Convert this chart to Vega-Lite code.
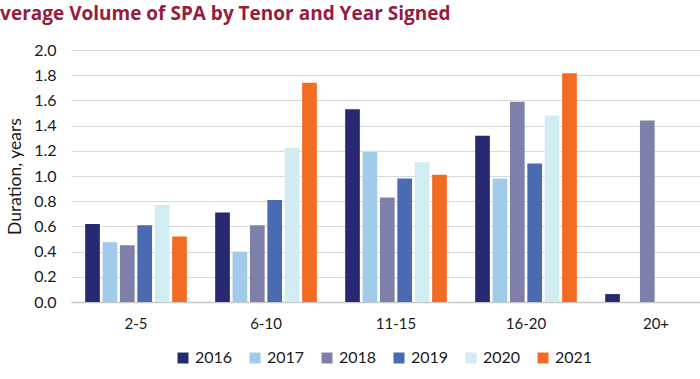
{
  "$schema": "https://vega.github.io/schema/vega-lite/v6.json",
  "width": 629,
  "height": 252,
  "autosize": {"type": "none"},
  "padding": {"left": 71, "top": 50, "right": 0, "bottom": 77},
  "background": "#ffffff",
  "title": {
    "text": "Average Volume of SPA by Tenor and Year Signed",
    "anchor": "start",
    "frame": "group",
    "dx": -84,
    "offset": 18,
    "font": "Open Sans",
    "fontSize": 19,
    "fontWeight": "bold",
    "color": "#981b3d"
  },
  "config": {
    "view": {"stroke": null},
    "font": "Lato"
  },
  "data": {
    "values": [
      {"tenor": "2-5", "year": "2016", "value": 0.62},
      {"tenor": "2-5", "year": "2017", "value": 0.475},
      {"tenor": "2-5", "year": "2018", "value": 0.45},
      {"tenor": "2-5", "year": "2019", "value": 0.61},
      {"tenor": "2-5", "year": "2020", "value": 0.77},
      {"tenor": "2-5", "year": "2021", "value": 0.52},
      {"tenor": "6-10", "year": "2016", "value": 0.71},
      {"tenor": "6-10", "year": "2017", "value": 0.40},
      {"tenor": "6-10", "year": "2018", "value": 0.61},
      {"tenor": "6-10", "year": "2019", "value": 0.81},
      {"tenor": "6-10", "year": "2020", "value": 1.225},
      {"tenor": "6-10", "year": "2021", "value": 1.74},
      {"tenor": "11-15", "year": "2016", "value": 1.53},
      {"tenor": "11-15", "year": "2017", "value": 1.19},
      {"tenor": "11-15", "year": "2018", "value": 0.83},
      {"tenor": "11-15", "year": "2019", "value": 0.98},
      {"tenor": "11-15", "year": "2020", "value": 1.11},
      {"tenor": "11-15", "year": "2021", "value": 1.01},
      {"tenor": "16-20", "year": "2016", "value": 1.32},
      {"tenor": "16-20", "year": "2017", "value": 0.98},
      {"tenor": "16-20", "year": "2018", "value": 1.59},
      {"tenor": "16-20", "year": "2019", "value": 1.10},
      {"tenor": "16-20", "year": "2020", "value": 1.48},
      {"tenor": "16-20", "year": "2021", "value": 1.815},
      {"tenor": "20+", "year": "2016", "value": 0.063},
      {"tenor": "20+", "year": "2018", "value": 1.44}
    ]
  },
  "mark": {"type": "bar"},
  "encoding": {
    "x": {
      "field": "tenor",
      "type": "nominal",
      "sort": ["2-5", "6-10", "11-15", "16-20", "20+"],
      "scale": {"range": [0, 650], "paddingInner": 0.218, "paddingOuter": 0.109},
      "axis": {
        "title": null,
        "labelAngle": 0,
        "labelFontSize": 15,
        "labelColor": "#1a1a1a",
        "labelPadding": 14,
        "ticks": false,
        "domain": true,
        "domainColor": "#c8c8c8",
        "domainWidth": 1.5
      }
    },
    "xOffset": {
      "field": "year",
      "type": "nominal",
      "scale": {"domain": ["2016", "2017", "2018", "2019", "2020", "2021"], "paddingInner": 0.155, "paddingOuter": 0}
    },
    "y": {
      "field": "value",
      "type": "quantitative",
      "scale": {"domain": [0, 2], "nice": false},
      "axis": {
        "title": "Duration, years",
        "titleFontSize": 17.5,
        "titleFontWeight": "normal",
        "titleColor": "#1a1a1a",
        "titlePadding": 9,
        "values": [0, 0.2, 0.4, 0.6, 0.8, 1.0, 1.2, 1.4, 1.6, 1.8, 2.0],
        "format": ".1f",
        "labelFontSize": 16,
        "labelColor": "#1a1a1a",
        "labelPadding": 15,
        "ticks": false,
        "domain": false,
        "gridColor": "#d9d9d9",
        "gridWidth": 1
      }
    },
    "color": {
      "field": "year",
      "type": "nominal",
      "scale": {
        "domain": ["2016", "2017", "2018", "2019", "2020", "2021"],
        "range": ["#272a72", "#a0cbeb", "#7f7fab", "#4a6ab2", "#d1ecf3", "#f26b23"]
      },
      "legend": {
        "title": null,
        "orient": "none",
        "direction": "horizontal",
        "legendX": 104,
        "legendY": 300,
        "symbolType": "square",
        "symbolSize": 121,
        "symbolStrokeWidth": 0,
        "labelFontSize": 16,
        "labelColor": "#1a1a1a",
        "labelOffset": 4,
        "columnPadding": 14
      }
    }
  }
}
